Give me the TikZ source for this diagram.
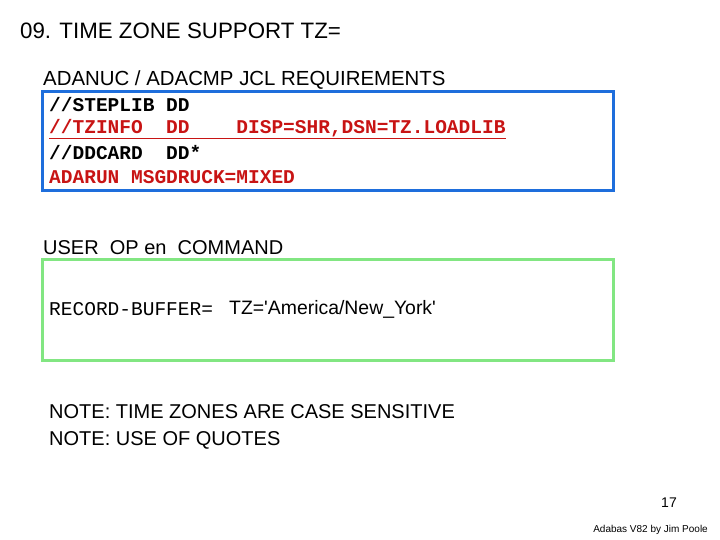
\documentclass[tikz,border=0pt]{standalone}
\usepackage{fontspec}
\setmainfont{Liberation Sans}
\newfontfamily\cour{Liberation Mono}
\definecolor{jblue}{RGB}{30,110,220}
\definecolor{jgreen}{RGB}{130,230,130}
\definecolor{jred}{RGB}{200,20,20}
\begin{document}
\begin{tikzpicture}[x=1pt,y=-1pt,
  sans/.style={anchor=west,inner sep=0pt,font=\fontsize{20}{22}\selectfont},
  mono/.style={anchor=west,inner sep=0pt,font=\cour\bfseries\fontsize{19.5}{22}\selectfont}]
\useasboundingbox (0,0) rectangle (720,540);
\node[sans,font=\fontsize{22.3}{24}\selectfont] (t) at (20,31) {09. TIME ZONE SUPPORT TZ=};
\node[sans,font=\fontsize{20.4}{22}\selectfont] (h1) at (43,80) {ADANUC / ADACMP JCL REQUIREMENTS};
\draw[jblue,line width=3pt] (42,92) rectangle (613,191);
\node[mono] (l1) at (49,105) {//STEPLIB DD};
\node[mono,text=jred] (l2) at (49,129) {\underline{//TZINFO\ \ DD\ \ \ \ DISP=SHR,DSN=TZ.LOADLIB}};
\node[mono] (l3) at (49,153) {//DDCARD\ \ DD*};
\node[mono,text=jred] (l4) at (49,177) {ADARUN MSGDRUCK=MIXED};
\node[sans] (h2) at (43,248) {USER\ \ OP en\ \ COMMAND};
\draw[jgreen,line width=3pt] (42,259) rectangle (613,360);
\node[mono,font=\cour\fontsize{19.5}{22}\selectfont] (r) at (49,309) {RECORD-BUFFER=};
\node[sans,font=\fontsize{19.4}{22}\selectfont] (r2) at (229,309) {TZ=\textquotesingle America/New\_York\textquotesingle};
\node[sans] (n1) at (49,412) {NOTE: TIME ZONES ARE CASE SENSITIVE};
\node[sans] (n2) at (49,440) {NOTE: USE OF QUOTES};
\node[anchor=center,inner sep=0pt,font=\fontsize{14}{16}\selectfont] (p) at (669,503) {17};
\node[anchor=east,inner sep=0pt,font=\fontsize{10}{12}\selectfont] (c) at (708,530) {Adabas V82 by Jim Poole};
\end{tikzpicture}
\end{document}
